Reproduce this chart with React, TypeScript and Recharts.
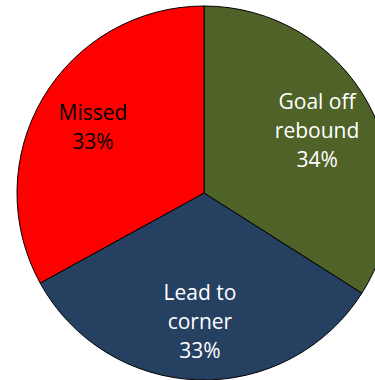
import React from 'react';
import { PieChart, Pie, Cell } from 'recharts';

const categories = ['Goal off rebound', 'Lead to corner', 'Missed'];
const labelLines = [['Goal off', 'rebound'], ['Lead to', 'corner'], ['Missed']];
const shares = [34, 33, 33];
const colors = ['#4F6228', '#254061', '#FF0000'];
const textColors = ['#FFFFFF', '#FFFFFF', '#000000'];

const data = categories.map((name, i) => ({ name, value: shares[i] }));

const RADIAN = Math.PI / 180;
const FONT = 21;
const LINE = 29;

const renderLabel = (props: any) => {
  const { cx, cy, midAngle, outerRadius, index, value } = props;
  const r = outerRadius * 0.69;
  const x = cx + r * Math.cos(-midAngle * RADIAN);
  const y = cy + r * Math.sin(-midAngle * RADIAN);
  const lines = [...labelLines[index], `${value}%`];
  const first = y - ((lines.length - 1) * LINE) / 2 + FONT * 0.35;
  return (
    <text
      x={x}
      y={first}
      fill={textColors[index]}
      textAnchor="middle"
      fontSize={FONT}
      fontFamily="'Open Sans', sans-serif"
    >
      {lines.map((l, i) => (
        <tspan key={i} x={x} y={first + i * LINE}>
          {l}
        </tspan>
      ))}
    </text>
  );
};

const App = () => {
  return (
    <div style={{ position: 'absolute', left: 0, top: 0, width: 375, height: 380, background: '#fff' }}>
      <PieChart width={375} height={380} margin={{ top: 0, right: 0, bottom: 0, left: 0 }}>
        <Pie
          data={data}
          dataKey="value"
          nameKey="name"
          cx={204}
          cy={193}
          outerRadius={187}
          startAngle={90}
          endAngle={-270}
          stroke="#000"
          strokeWidth={1}
          labelLine={false}
          label={renderLabel}
          isAnimationActive={false}
        >
          {data.map((d, i) => (
            <Cell key={d.name} fill={colors[i]} />
          ))}
        </Pie>
      </PieChart>
    </div>
  );
};

export default App;
